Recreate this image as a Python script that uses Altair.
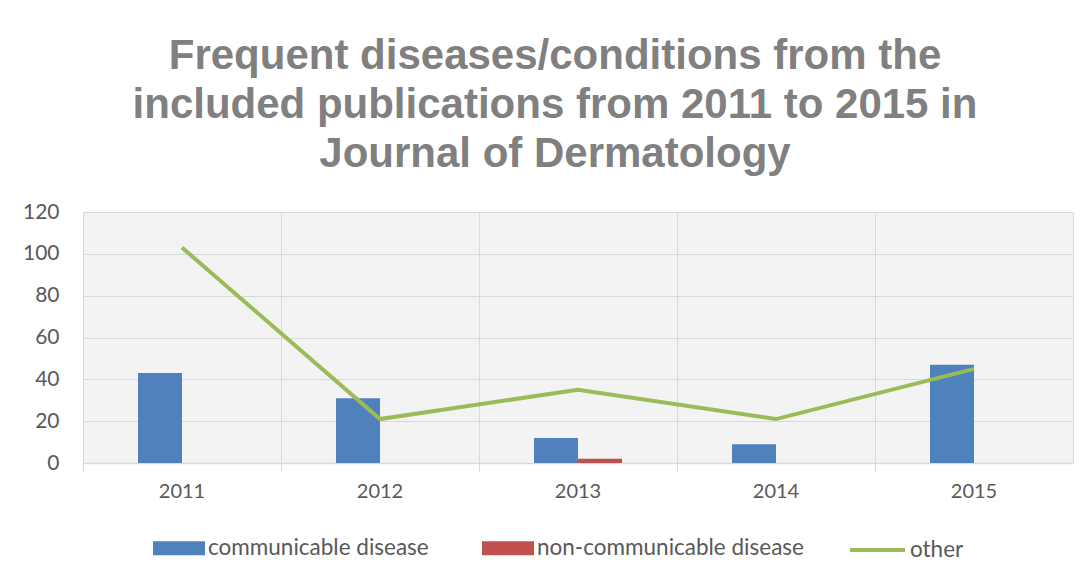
import altair as alt
import pandas as pd

years = ["2011", "2012", "2013", "2014", "2015"]
communicable = [43, 31, 12, 9, 47]
non_communicable = [0, 0, 2, 0, 0]
other = [103, 21, 35, 21, 45]

bar_series = ["communicable disease", "non-communicable disease"]
bar_colors = ["#4F81BD", "#C0504D"]
line_series = ["other"]
line_colors = ["#9BBB59"]

bars_df = pd.DataFrame({
    "year": years * 2,
    "series": [bar_series[0]] * len(years) + [bar_series[1]] * len(years),
    "value": communicable + non_communicable,
})
line_df = pd.DataFrame({"year": years, "series": line_series[0], "value": other})

GRID = "#d9d9d9"
LABEL = "#595959"

legend_common = dict(
    title=None,
    orient="none",
    direction="horizontal",
    symbolOpacity=1,
    labelFont="Lato",
    labelFontSize=22.5,
    labelColor=LABEL,
    labelOffset=3,
    labelLimit=400,
    columnPadding=53,
    padding=0,
)

x = alt.X(
    "year:N",
    sort=years,
    scale=alt.Scale(paddingInner=0, paddingOuter=0),
    axis=alt.Axis(
        title=None,
        labelAngle=0,
        bandPosition=0,
        grid=True,
        gridColor=GRID,
        domainColor=GRID,
        domainWidth=1.5,
        tickColor=GRID,
        tickSize=8,
        labelPadding=10,
        labelFont="Lato",
        labelFontSize=20,
        labelColor=LABEL,
    ),
)

y = alt.Y(
    "value:Q",
    scale=alt.Scale(domain=[0, 120], nice=False),
    axis=alt.Axis(
        title=None,
        values=[0, 20, 40, 60, 80, 100, 120],
        domain=False,
        ticks=False,
        gridColor=GRID,
        labelPadding=24,
        labelFont="Lato",
        labelFontSize=21,
        labelColor=LABEL,
    ),
)

# gap slots on either side of the bar pair (Excel-style gap width)
offset_domain = ["_gap_left"] + bar_series + ["_gap_right"]

bars = alt.Chart(bars_df).mark_bar().encode(
    x=x,
    xOffset=alt.XOffset(
        "series:N",
        scale=alt.Scale(domain=offset_domain, paddingInner=0, paddingOuter=0.25),
    ),
    y=y,
    color=alt.Color(
        "series:N",
        scale=alt.Scale(domain=bar_series, range=bar_colors),
        legend=alt.Legend(
            legendX=70,
            legendY=310,
            symbolType="M-1,-0.27H1V0.27H-1Z",
            symbolSize=2704,
            symbolStrokeWidth=0,
            **legend_common,
        ),
    ),
)

line = alt.Chart(line_df).mark_line(strokeWidth=4).encode(
    x=x,
    y=y,
    stroke=alt.Stroke(
        "series:N",
        scale=alt.Scale(domain=line_series, range=line_colors),
        legend=alt.Legend(
            legendX=765,
            legendY=308.5,
            symbolType="M-1,0H1",
            symbolSize=3025,
            symbolStrokeWidth=4,
            **legend_common,
        ),
    ),
)

chart = (
    alt.layer(bars, line)
    .properties(
        width=990,
        height=251,
        autosize="none",
        padding={"left": 75, "top": 204, "right": 8, "bottom": 100},
        title=alt.Title(
            [
                "Frequent diseases/conditions from the",
                "included publications from 2011 to 2015 in",
                "Journal of Dermatology",
            ],
            font="Liberation Sans",
            fontSize=42,
            fontWeight="bold",
            color="#808080",
            lineHeight=49,
            anchor="middle",
            dx=-23,
            offset=25,
        ),
    )
    .configure_view(fill="#f3f3f3", stroke=GRID)
)

chart.save("out.html", embed_options={"renderer": "svg", "actions": False})
